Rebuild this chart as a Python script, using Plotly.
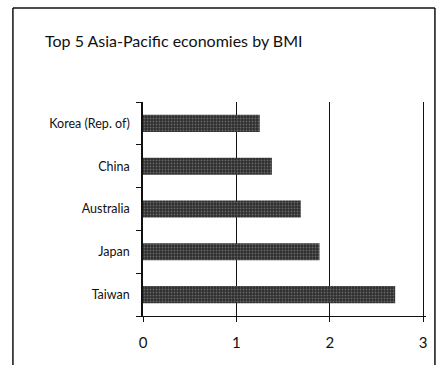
import plotly.graph_objects as go

countries = ["Taiwan", "Japan", "Australia", "China", "Korea (Rep. of)"]
bmi = [2.70, 1.89, 1.69, 1.38, 1.25]
x_ticks = [0, 1, 2, 3]

W, H = 439, 365
L, R, T, B = 143, 11, 102, 49
pw, ph = W - L - R, H - T - B

def px(x):
    return (x - L) / pw

def py(y):
    return (H - B - y) / ph

fig = go.Figure(go.Bar(
    x=bmi, y=countries, orientation="h",
    marker=dict(color="#2e2e2e", line=dict(width=0),
                pattern=dict(shape=".", fgcolor="#a0a0a0", bgcolor="#2e2e2e",
                             size=3, solidity=0.3)),
    width=0.4,
))

fig.update_layout(
    width=W, height=H,
    margin=dict(l=L, r=R, t=T, b=B),
    paper_bgcolor="white", plot_bgcolor="white",
    showlegend=False,
    font=dict(family="Lato, Open Sans, sans-serif", color="#111"),
    title=dict(text="Top 5 Asia-Pacific economies by BMI", x=45 / W, xanchor="left",
               y=1 - 41 / H, yanchor="middle", font=dict(size=16, color="#111")),
    xaxis=dict(range=[0, 3.03], tickvals=x_ticks, showgrid=True, gridcolor="#111",
               gridwidth=1, zeroline=False, showline=True, linecolor="#111",
               linewidth=1, ticks="outside", ticklen=5, tickcolor="#111",
               ticklabelstandoff=8, tickfont=dict(size=15, color="#111")),
    yaxis=dict(type="category", tickson="boundaries", showline=True,
               linecolor="#111", linewidth=1.5, ticks="outside", ticklen=5,
               tickcolor="#111", showgrid=False, ticklabelstandoff=9,
               tickfont=dict(size=12.5, color="#111")),
    shapes=[
        dict(type="line", xref="paper", yref="paper", x0=px(12), x1=px(12),
             y0=py(8), y1=py(365), line=dict(color="#111", width=1.5)),
        dict(type="line", xref="paper", yref="paper", x0=px(12), x1=px(437),
             y0=py(8), y1=py(8), line=dict(color="#111", width=1.5)),
        dict(type="line", xref="paper", yref="paper", x0=px(437), x1=px(437),
             y0=py(8), y1=py(365), line=dict(color="#111", width=1.5)),
    ],
)

fig.write_html("out.html")
